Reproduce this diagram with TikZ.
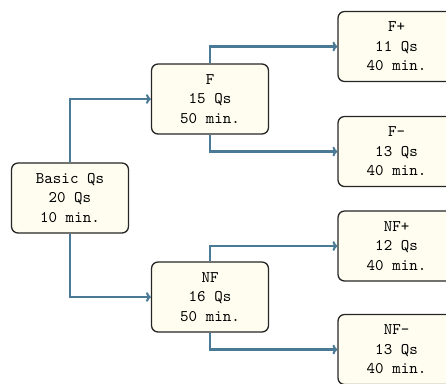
\documentclass[tikz,border=0pt]{standalone}
\usetikzlibrary{arrows.meta}
\definecolor{arrcol}{RGB}{74,122,150}
\definecolor{boxfill}{RGB}{254,253,240}
\begin{document}
\begin{tikzpicture}[x=0.6173pt,y=-0.6173pt,
  qbox/.style={draw=black!85, line width=0.8pt, fill=boxfill, rounded corners=4pt,
    minimum width=72.2pt, minimum height=43.2pt, align=center, font=\ttfamily, inner sep=2pt},
  arr/.style={draw=arrcol, line width=1.3pt, -{To[length=3pt,width=6pt]}}]
\useasboundingbox (0,0) rectangle (446,383);
\node[qbox] (basic) at (70,198) {Basic Qs\\20 Qs\\10 min.};
\node[qbox] (F) at (210,99) {F\\15 Qs\\50 min.};
\node[qbox] (NF) at (210,297) {NF\\16 Qs\\50 min.};
\node[qbox] (Fp) at (396.5,46.5) {F+\\11 Qs\\40 min.};
\node[qbox] (Fm) at (396.5,151.5) {F-\\13 Qs\\40 min.};
\node[qbox] (NFp) at (396.5,246) {NF+\\12 Qs\\40 min.};
\node[qbox] (NFm) at (396.5,349.5) {NF-\\13 Qs\\40 min.};
\draw[arr] (basic.north) |- (F.west);
\draw[arr] (basic.south) |- (NF.west);
\draw[arr] (F.north) |- (Fp.west);
\draw[arr] (F.south) |- (Fm.west);
\draw[arr] (NF.north) |- (NFp.west);
\draw[arr] (NF.south) |- (NFm.west);
\end{tikzpicture}
\end{document}
